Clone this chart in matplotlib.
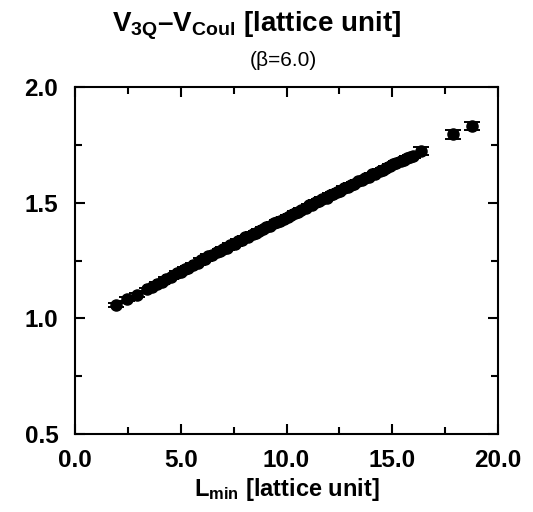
import matplotlib
matplotlib.use("Agg")
import matplotlib.pyplot as plt
from matplotlib.ticker import MultipleLocator, FormatStrFormatter

plt.rcParams['font.family'] = ['Liberation Sans', 'DejaVu Sans']
plt.rcParams['mathtext.fontset'] = 'custom'
plt.rcParams['mathtext.rm'] = 'Liberation Sans:bold'
plt.rcParams['mathtext.bf'] = 'Liberation Sans:bold'
plt.rcParams['mathtext.it'] = 'Liberation Sans:bold'

# data: L_min vs V_3Q - V_Coul (lattice units)
l_min = [1.94, 2.46, 2.93, 3.40, 3.62, 3.90, 4.10, 4.30, 4.55, 4.80, 5.00, 5.20, 5.35,
         5.60, 5.80, 5.95, 6.15, 6.30, 6.50, 6.70, 6.85, 7.00, 7.20, 7.35, 7.55, 7.70,
         7.90, 8.05, 8.20, 8.40, 8.55, 8.70, 8.90, 9.05, 9.20, 9.40, 9.55, 9.70, 9.90,
         10.05, 10.20, 10.40, 10.55, 10.70, 10.90, 11.05, 11.20, 11.40, 11.55, 11.70,
         11.90, 12.05, 12.20, 12.40, 12.55, 12.70, 12.90, 13.05, 13.20, 13.40, 13.55,
         13.70, 13.90, 14.05, 14.20, 14.40, 14.55, 14.70, 14.90, 15.05, 15.20, 15.40,
         15.55, 15.70, 15.85, 16.00, 16.36, 17.87, 18.77]
v_diff = [1.057, 1.085, 1.100, 1.125, 1.135, 1.148, 1.158, 1.170, 1.178, 1.195, 1.200,
          1.215, 1.218, 1.232, 1.238, 1.252, 1.255, 1.268, 1.272, 1.285, 1.290, 1.300,
          1.305, 1.318, 1.322, 1.335, 1.338, 1.350, 1.352, 1.365, 1.370, 1.378, 1.385,
          1.393, 1.398, 1.410, 1.415, 1.422, 1.430, 1.440, 1.445, 1.455, 1.460, 1.470,
          1.475, 1.488, 1.490, 1.502, 1.508, 1.515, 1.522, 1.533, 1.537, 1.548, 1.552,
          1.562, 1.568, 1.578, 1.582, 1.592, 1.598, 1.605, 1.612, 1.622, 1.625, 1.637,
          1.642, 1.650, 1.657, 1.665, 1.670, 1.680, 1.685, 1.692, 1.697, 1.703, 1.722,
          1.795, 1.832]
v_err = [0.008] * 76 + [0.018, 0.018, 0.018]

fig = plt.figure(figsize=(5.33, 5.12), dpi=100)
ax = fig.add_axes([75/533, 1-434/512, (498-75)/533, (434-87)/512])

ax.errorbar(l_min, v_diff, yerr=v_err, fmt='o', color='black', markersize=8,
            elinewidth=1.4, capsize=5.5, capthick=1.4)

ax.set_xlim(0, 20)
ax.set_ylim(0.5, 2.0)
ax.xaxis.set_major_locator(MultipleLocator(5))
ax.xaxis.set_minor_locator(MultipleLocator(2.5))
ax.yaxis.set_major_locator(MultipleLocator(0.5))
ax.yaxis.set_minor_locator(MultipleLocator(0.25))
ax.xaxis.set_major_formatter(FormatStrFormatter('%.1f'))
ax.yaxis.set_major_formatter(FormatStrFormatter('%.1f'))

ax.tick_params(which='both', direction='in', top=True, right=True, width=1.5)
ax.tick_params(which='major', length=7, labelsize=17.5)
ax.tick_params(axis='x', which='major', pad=11)
ax.tick_params(axis='y', which='major', pad=12)
ax.tick_params(which='minor', length=5)
for lab in ax.get_xticklabels() + ax.get_yticklabels():
    lab.set_fontweight('bold')
for sp in ax.spines.values():
    sp.set_linewidth(1.5)

ax.set_xlabel(r'L$_\mathrm{min}$ [lattice unit]', fontsize=17, fontweight='bold', labelpad=3)

fig.text(257/533, 1-26/512, r'V$_\mathrm{3Q}$–V$_\mathrm{Coul}$ [lattice unit]',
         ha='center', va='center', fontsize=20, fontweight='bold')
fig.text(283/533, 1-60/512, '(β=6.0)', ha='center', va='center', fontsize=15)

fig.savefig('out.png', dpi=100)
